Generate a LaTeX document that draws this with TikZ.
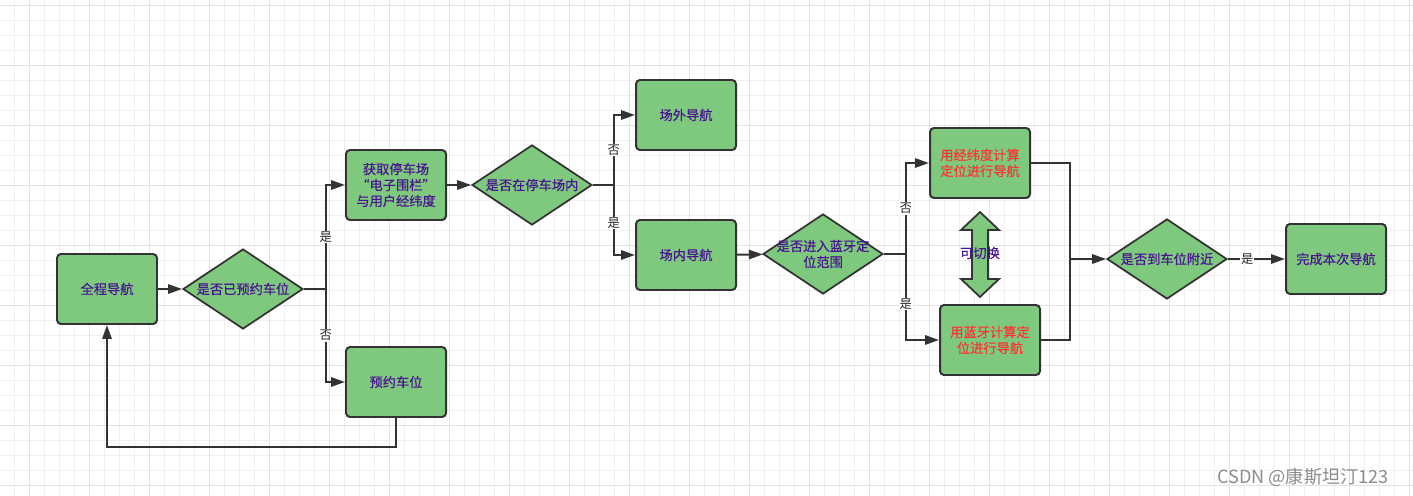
\documentclass[tikz,border=0pt]{standalone}
\usepackage{fontspec}
\newfontfamily\cjk[FakeBold=0.5]{Noto Sans CJK SC}
\newfontfamily\cjkplain{Noto Sans CJK SC}
\usetikzlibrary{arrows.meta,shapes.geometric,calc}
\definecolor{NVGrid}{HTML}{F0F0F0}
\definecolor{NVGridMajor}{HTML}{E2E2E2}
\definecolor{NVFill}{HTML}{7FC97F}
\definecolor{NVLine}{HTML}{333333}
\definecolor{NVText}{HTML}{4A1590}
\definecolor{NVRed}{HTML}{FF3333}
\definecolor{NVMark}{HTML}{8C8C8C}
\tikzset{
  flow/.style={-{Triangle[length=4.2mm,width=2.8mm]},NVLine,line width=1.7pt},
  link/.style={NVLine,line width=1.7pt},
  proc/.style={draw=NVLine,line width=1.7pt,fill=NVFill,rounded corners=1.2mm,
               minimum width=30mm,minimum height=21mm,inner sep=0pt,
               text=NVText,font=\cjk\fontsize{11.3}{13.6}\selectfont,align=center},
  procred/.style={proc,text=NVRed},
  decision/.style={diamond,draw=NVLine,line width=1.5pt,fill=NVFill,
                   minimum width=36mm,minimum height=24mm,inner sep=0pt},
  dtext/.style={text=NVText,font=\cjk\fontsize{11.3}{13.6}\selectfont,align=center},
  answer/.style={fill=white,text=black!85,font=\cjkplain\fontsize{10.5}{12}\selectfont,inner sep=.6pt},
  gridminor/.style={NVGrid,line width=.3mm},
  gridmajor/.style={NVGridMajor,line width=.3mm},
}
\begin{document}
\begin{tikzpicture}[x=.3mm,y=-.3mm]
  \useasboundingbox (0,0) rectangle (1413,496);
  % canvas grid
  \fill[white] (0,0) rectangle (1413,496);
  \foreach \gx in {14.3,29.3,...,1413} \draw[gridminor] (\gx,0) -- (\gx,496);
  \foreach \gy in {5.3,20.3,...,496} \draw[gridminor] (0,\gy) -- (1413,\gy);
  \foreach \gx in {29.3,89.3,...,1413} \draw[gridmajor] (\gx,0) -- (\gx,496);
  \foreach \gy in {5.3,65.3,...,496} \draw[gridmajor] (0,\gy) -- (1413,\gy);

  % steps
  \node[proc] (start) at (107,289) {全程导航};
  \node[decision,label={[dtext]center:是否已预约车位}] (q1) at (243,289) {};
  \node[proc] (fence) at (396,185) {获取停车场\\“电子围栏”\\与用户经纬度};
  \node[proc] (book) at (396,382) {预约车位};
  \node[decision,label={[dtext]center:是否在停车场内}] (q2) at (532,185) {};
  \node[proc] (outside) at (686,115) {场外导航};
  \node[proc] (inside) at (686,255) {场内导航};
  \node[decision,label={[dtext]center:{是否进入蓝牙定\\位范围}}] (q3) at (823,254) {};
  \node[procred] (gps) at (980,163) {用经纬度计算\\定位进行导航};
  \node[procred] (ble) at (990,340) {用蓝牙计算定\\位进行导航};
  \node[decision,label={[dtext]center:是否到车位附近}] (q4) at (1167,259) {};
  \node[proc] (done) at (1336,259) {完成本次导航};
  \coordinate (merge) at (1070,259);

  % switch between the two modes
  \draw[NVLine,line width=1.5pt,fill=NVFill] (980,212) -- (999,230) -- (988,230) -- (988,279)
    -- (999,279) -- (980,297) -- (961,279) -- (972,279) -- (972,230) -- (961,230) -- cycle;
  \node[dtext] (swap) at (980,253) {可切换};

  % connectors
  \draw[flow] (start) -- (q1);
  \draw[flow] (q1.east) -- ++(22,0) |- node[pos=.25,answer] {是} (fence.west);
  \draw[flow] (q1.east) -- ++(22,0) |- node[pos=.25,answer] {否} (book.west);
  \draw[flow] (book.south) -- ++(0,29) -| (start.south);
  \draw[flow] (fence) -- (q2);
  \draw[flow] (q2.east) -- ++(21,0) |- node[pos=.25,answer] {否} (outside.west);
  \draw[flow] (q2.east) -- ++(21,0) |- node[pos=.27,answer] {是} (inside.west);
  \draw[flow] (inside) -- (q3);
  \draw[flow] (q3.east) -- ++(22,0) |- node[pos=.25,answer] {否} (gps.west);
  \draw[flow] (q3.east) -- ++(22,0) |- node[pos=.29,answer] {是} (ble.west);
  \draw[link] (gps.east) -| (merge);
  \draw[link] (ble.east) -| (merge);
  \draw[flow] (merge) -- (q4.west);
  \draw[flow] (q4.east) -- node[pos=.34,answer] {是} (done.west);

  \node[text=NVMark,font=\cjkplain\fontsize{15.5}{18}\selectfont] (mark) at (1303,477) {CSDN @康斯坦汀123};
\end{tikzpicture}
\end{document}
